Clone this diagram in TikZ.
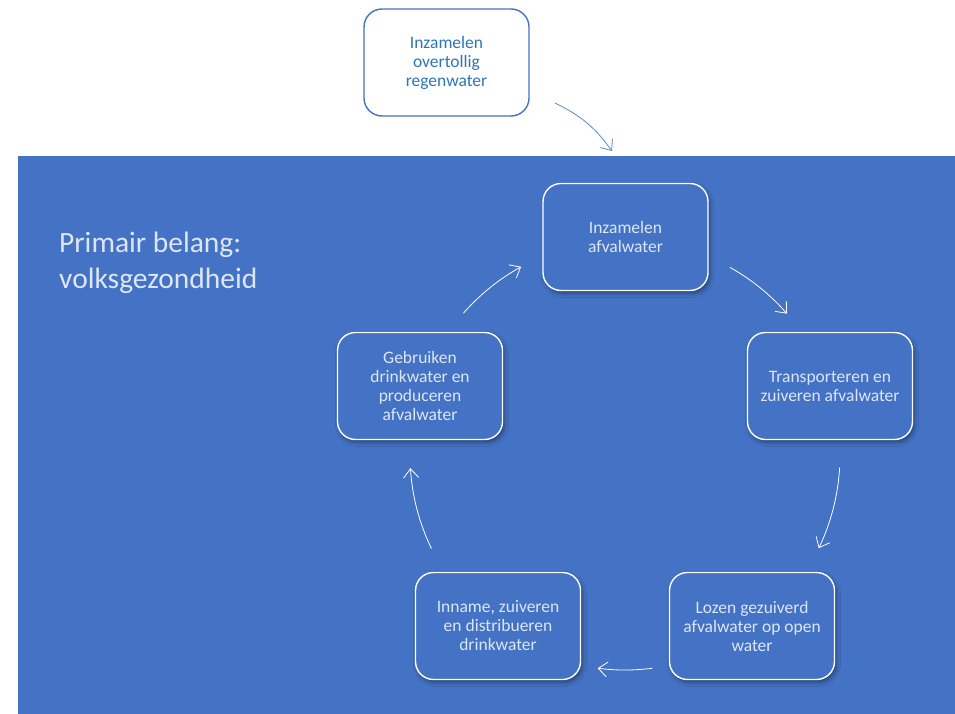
\documentclass[tikz,border=0pt]{standalone}
\usepackage{fontspec}
\setmainfont{Carlito}
\usetikzlibrary{arrows.meta,shadows.blur}
\definecolor{bgblue}{HTML}{4472C4}
\definecolor{boxtext}{HTML}{DDE6F5}
\definecolor{toptext}{HTML}{2E75B6}
\definecolor{toparrow}{HTML}{5B86CF}
\tikzset{
  stepbox/.style={draw=white, fill=bgblue, line width=1.4pt, rounded corners=18pt,
    minimum width=165pt, minimum height=107pt, inner sep=0pt,
    align=center, text=boxtext, font=\fontsize{17.5}{19}\selectfont,
    blur shadow={shadow xshift=2pt, shadow yshift=-3pt, shadow blur radius=4pt, shadow opacity=40}},
  topbox/.style={draw=bgblue, line width=1.4pt, rounded corners=18pt, fill=white,
    minimum width=165pt, minimum height=107pt, inner sep=0pt,
    align=center, text=toptext, font=\fontsize{17.5}{19}\selectfont},
  cyclearrow/.style={draw=white, line width=0.8pt, -{Straight Barb[length=9pt,width=15pt]}},
  feedarrow/.style={draw=toparrow, line width=0.8pt, -{Straight Barb[length=9pt,width=15pt]}},
  heading/.style={anchor=west, align=left, text=boxtext, font=\fontsize{29.5}{36}\selectfont, inner sep=0pt}
}
\begin{document}
\begin{tikzpicture}[x=1pt,y=1pt]
\useasboundingbox (0,0) rectangle (955,-714);
\fill[white] (0,0) rectangle (955,-714);
\fill[bgblue] (18,-156) rectangle (955,-714);

\node[heading] (title) at (59,-263) {Primair belang:\\volksgezondheid};

\node[topbox] (top) at (446.5,-62.5) {Inzamelen\\overtollig\\regenwater};

\node[stepbox] (n1) at (625.5,-237) {Inzamelen\\afvalwater};
\node[stepbox] (n2) at (830,-386) {Transporteren en\\zuiveren afvalwater};
\node[stepbox] (n3) at (752,-626) {Lozen gezuiverd\\afvalwater op open\\water};
\node[stepbox] (n4) at (498,-626) {Inname, zuiveren\\en distribueren\\drinkwater};
\node[stepbox] (n5) at (420,-386) {Gebruiken\\drinkwater en\\produceren\\afvalwater};

\coordinate (cyc) at (625,-455);
\coordinate (feedstart) at (555,-103);
\coordinate (feedend) at (612,-151);

\draw[feedarrow] (feedstart) to[bend left=14] (feedend);

\draw[cyclearrow] (cyc) ++(60.8:215pt) arc[start angle=60.8, end angle=41.1, radius=215pt];
\draw[cyclearrow] (cyc) ++(-3.4:215pt) arc[start angle=-3.4, end angle=-25.7, radius=215pt];
\draw[cyclearrow] (cyc) ++(-82.7:215pt) arc[start angle=-82.7, end angle=-97.3, radius=215pt];
\draw[cyclearrow] (cyc) ++(-154.2:215pt) arc[start angle=-154.2, end angle=-176.5, radius=215pt];
\draw[cyclearrow] (cyc) ++(138.7:215pt) arc[start angle=138.7, end angle=118.9, radius=215pt];
\end{tikzpicture}
\end{document}
